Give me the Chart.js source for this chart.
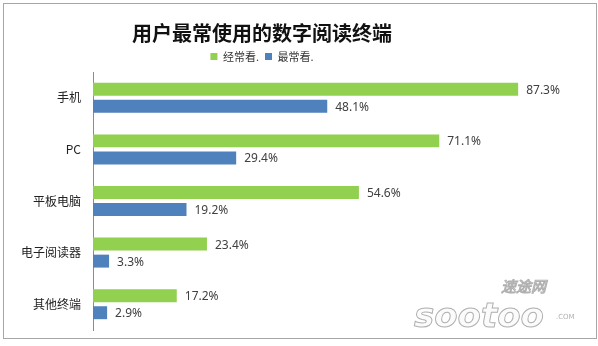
<!DOCTYPE html>
<html>
<head>
<meta charset="utf-8">
<script src="https://cdn.jsdelivr.net/npm/chart.js@4/dist/chart.umd.min.js"></script>
<style>
  html, body { margin: 0; padding: 0; background: #fff; }
  #frame { position: absolute; left: 3px; top: 3px; width: 592px; height: 334px; border: 1px solid #a6a6a6; background: #fff; }
  canvas { display: block; }
</style>
</head>
<body>
<div id="frame"><canvas id="chart" width="592" height="334"></canvas></div>
<script>
// chart data
const categories = ['手机', 'PC', '平板电脑', '电子阅读器', '其他终端']
const oftenRead = [87.3, 71.1, 54.6, 23.4, 17.2]
const mostRead = [48.1, 29.4, 19.2, 3.3, 2.9]
const seriesNames = ['经常看.', '最常看.']
const titleText = '用户最常使用的数字阅读终端'

const cjkFont = '"Noto Sans CJK SC", "Noto Sans", sans-serif'

// value text at the end of each bar
const valueLabels = {
  id: 'valueLabels',
  afterDatasetsDraw(chart) {
    const ctx = chart.ctx
    ctx.save()
    ctx.font = '12px "Noto Sans", "Noto Sans CJK SC", sans-serif'
    ctx.fillStyle = '#404040'
    ctx.textBaseline = 'middle'
    chart.data.datasets.forEach((ds, i) => {
      chart.getDatasetMeta(i).data.forEach((bar, j) => {
        ctx.fillText(ds.data[j].toFixed(1) + '%', bar.x + 8, bar.y + 1)
      })
    })
    ctx.restore()
  }
}

// faint site watermark in the lower right corner
const watermark = {
  id: 'watermark',
  afterDraw(chart) {
    const ctx = chart.ctx
    ctx.save()
    ctx.strokeStyle = '#b0b0b0'
    ctx.fillStyle = '#fbfbfb'
    ctx.lineWidth = 1
    ctx.font = 'italic 15px "Noto Sans CJK SC", sans-serif'
    ctx.fillText('速途网', 497, 282)
    ctx.strokeText('速途网', 497, 282)
    ctx.font = 'italic bold 34px "DejaVu Sans", sans-serif'
    ctx.fillText('sootoo', 410, 314)
    ctx.strokeText('sootoo', 410, 314)
    ctx.font = '7px "DejaVu Sans", sans-serif'
    ctx.fillStyle = '#b0b0b0'
    ctx.fillText('.COM', 552, 313)
    ctx.restore()
  }
}

// title + legend sit left of the canvas centre in the original
const shiftHeader = {
  id: 'shiftHeader',
  afterLayout(chart) {
    const target = 258
    for (const box of [chart.titleBlock, chart.legend]) {
      if (!box) continue
      const dx = target - (box.left + box.right) / 2
      box.left += dx
      box.right += dx
    }
  }
}

new Chart(document.getElementById('chart'), {
  type: 'bar',
  data: {
    labels: categories,
    datasets: [
      { label: seriesNames[0], data: oftenRead, backgroundColor: '#92d050' },
      { label: seriesNames[1], data: mostRead, backgroundColor: '#4f81bd' }
    ]
  },
  options: {
    indexAxis: 'y',
    responsive: false,
    animation: false,
    layout: { padding: { top: 0, right: 16, bottom: 8, left: 0 } },
    datasets: {
      bar: { categoryPercentage: 0.66, barPercentage: 0.76 }
    },
    scales: {
      x: { display: false, min: 0, max: 100 },
      y: {
        grid: { display: false, drawTicks: true, tickLength: 12 },
        border: { display: true, color: '#8c8c8c', width: 1 },
        ticks: { padding: 0, color: '#222', font: { family: cjkFont, size: 12 } },
        afterFit(scale) { scale.width = 89 }
      }
    },
    plugins: {
      title: {
        display: true,
        text: titleText,
        color: '#111',
        font: { family: cjkFont, size: 20, weight: 'bold' },
        padding: { top: 17, bottom: 0 }
      },
      legend: {
        display: true,
        labels: {
          boxWidth: 7,
          boxHeight: 7,
          padding: 6,
          color: '#333',
          font: { family: cjkFont, size: 11 }
        }
      },
      tooltip: { enabled: false }
    }
  },
  plugins: [valueLabels, watermark, shiftHeader]
})
</script>
</body>
</html>
